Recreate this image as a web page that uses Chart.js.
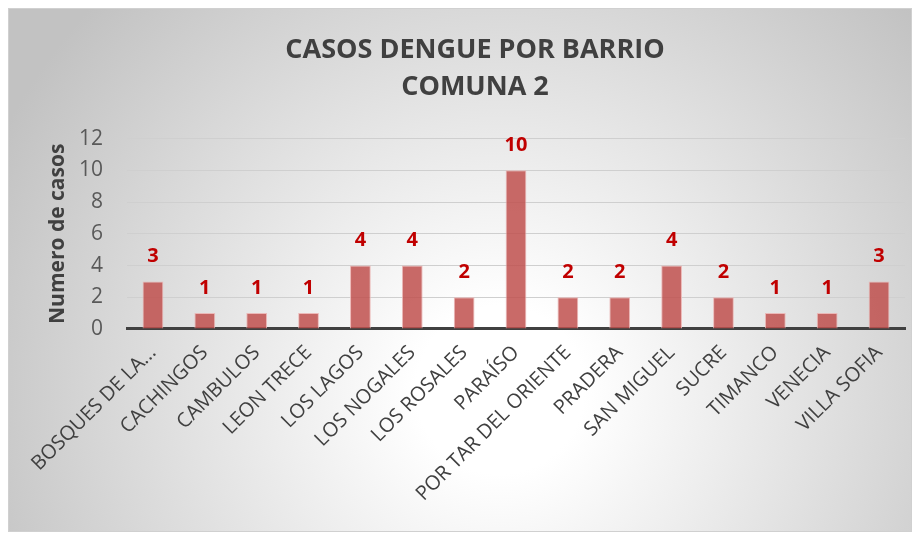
<!DOCTYPE html>
<html>
<head>
<meta charset="utf-8">
<script src="https://cdn.jsdelivr.net/npm/chart.js@4/dist/chart.umd.min.js"></script>
<style>
  body { margin: 0; background: #fff; }
  #wrap { width: 920px; height: 533px; }
</style>
</head>
<body>
<div id="wrap"><canvas id="dengue" width="920" height="533"></canvas></div>
<script>
// datos
const barrios = ['BOSQUES DE LA...', 'CACHINGOS', 'CAMBULOS', 'LEON TRECE', 'LOS LAGOS', 'LOS NOGALES', 'LOS ROSALES', 'PARAÍSO', 'POR TAR DEL ORIENTE', 'PRADERA', 'SAN MIGUEL', 'SUCRE', 'TIMANCO', 'VENECIA', 'VILLA SOFIA'];
const casos = [3, 1, 1, 1, 4, 4, 2, 10, 2, 2, 4, 2, 1, 1, 3];
const tituloLineas = ['CASOS DENGUE POR BARRIO', 'COMUNA 2'];
const tituloEje = 'Numero de casos';

// fondo con degradado y marco
const fondo = {
    id: 'fondo',
    beforeDraw(chart) {
        const c = chart.ctx;
        c.save();
        const g = c.createRadialGradient(500, 390, 0, 500, 390, 560);
        g.addColorStop(0, '#ffffff');
        g.addColorStop(0.15, '#ffffff');
        g.addColorStop(1, '#c2c2c2');
        c.fillStyle = g;
        c.fillRect(8, 8, 904, 524);
        c.strokeStyle = '#d0d0d0';
        c.lineWidth = 1;
        c.strokeRect(8.5, 8.5, 903, 523);
        c.restore();
    }
};

// etiquetas de valor encima de las barras
const etiquetas = {
    id: 'etiquetas',
    afterDatasetsDraw(chart) {
        const c = chart.ctx;
        const meta = chart.getDatasetMeta(0);
        c.save();
        c.font = 'bold 20px "Open Sans"';
        c.fillStyle = '#c00000';
        c.textAlign = 'center';
        c.textBaseline = 'middle';
        meta.data.forEach((bar, i) => {
            c.fillText(String(casos[i]), bar.x, bar.y - 25);
        });
        c.restore();
    }
};

const ctx = document.getElementById('dengue').getContext('2d');
const grafico = new Chart(ctx, {
    type: 'bar',
    data: {
        labels: barrios,
        datasets: [{
            label: 'Casos',
            data: casos,
            backgroundColor: 'rgba(192, 80, 77, 0.85)',
            borderColor: 'rgba(235, 180, 178, 0.9)',
            borderWidth: 1,
            categoryPercentage: 1,
            barPercentage: 0.4
        }]
    },
    options: {
        responsive: false,
        animation: false,
        layout: { padding: { left: 45, right: 15, top: 20, bottom: 23 } },
        plugins: {
            legend: { display: false },
            tooltip: { enabled: false },
            title: {
                display: true,
                text: tituloLineas,
                color: '#404040',
                font: { family: 'Open Sans', size: 27, weight: 'bold', lineHeight: 1.4 },
                padding: { top: 11, bottom: 32 }
            }
        },
        scales: {
            y: {
                min: 0,
                max: 12,
                ticks: {
                    stepSize: 2,
                    color: '#595959',
                    font: { family: 'Open Sans', size: 21 },
                    padding: 24
                },
                grid: { color: '#cfcfcf', lineWidth: 1, drawTicks: false },
                border: { display: false },
                title: {
                    display: true,
                    text: tituloEje,
                    color: '#404040',
                    font: { family: 'Open Sans', size: 21, weight: 'bold' },
                    padding: 0
                },
                // ancho fijo del eje y (titulo + etiquetas)
                afterFit(scale) {
                    scale.width = 82;
                }
            },
            x: {
                ticks: {
                    minRotation: 45,
                    maxRotation: 45,
                    color: '#404040',
                    font: { family: 'Open Sans', size: 20 },
                    padding: 4
                },
                grid: { display: false },
                border: { color: '#404040', width: 3 },
                afterFit(scale) {
                    scale.paddingLeft = 0;
                    scale.paddingRight = 0;
                }
            }
        }
    },
    plugins: [fondo, etiquetas]
});
</script>
</body>
</html>
